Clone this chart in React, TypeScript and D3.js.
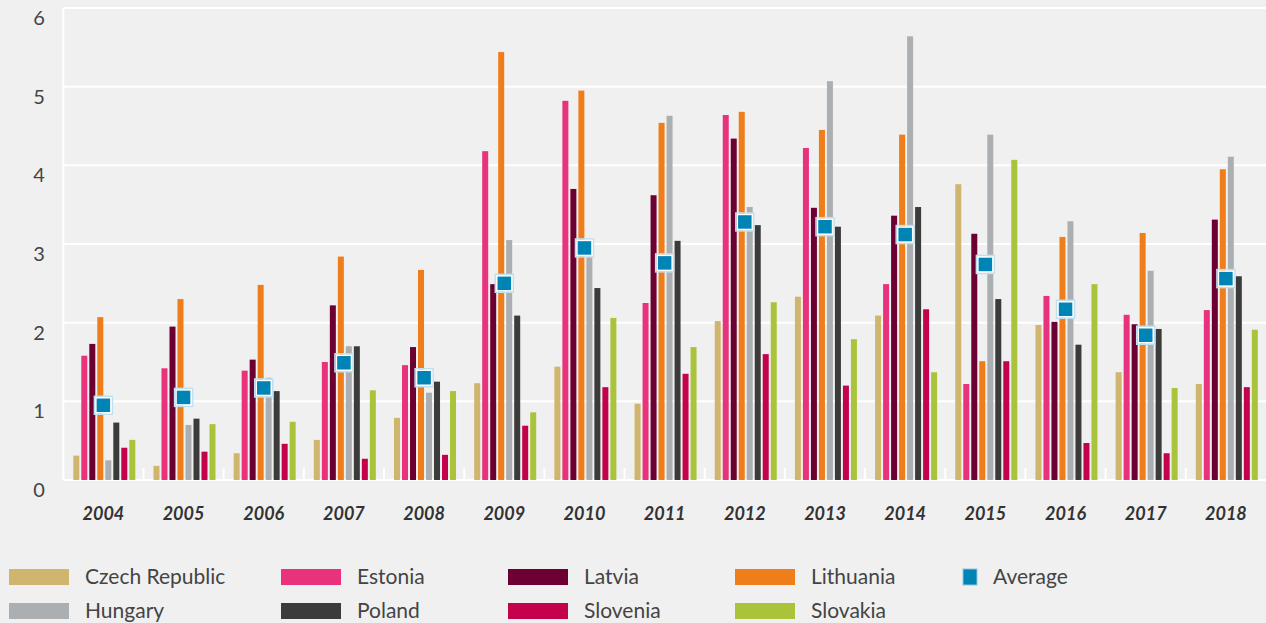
import React from "react";
import * as d3 from "d3";

const years = ["2004","2005","2006","2007","2008","2009","2010","2011","2012","2013","2014","2015","2016","2017","2018"];
const seriesNames = ["Czech Republic","Estonia","Latvia","Lithuania","Hungary","Poland","Slovenia","Slovakia"];
const seriesColors = ["#cfb56d","#e8327c","#6d0032","#ef7d1a","#acafb1","#3a3b3a","#c3024b","#a9c43a"];
const averageColor = "#0083b5";

const czech     = [0.31,0.18,0.34,0.51,0.79,1.23,1.44,0.97,2.02,2.33,2.09,3.76,1.97,1.37,1.22];
const estonia   = [1.58,1.42,1.39,1.50,1.46,4.18,4.82,2.25,4.64,4.22,2.49,1.22,2.34,2.10,2.16];
const latvia    = [1.73,1.95,1.53,2.22,1.69,2.49,3.70,3.62,4.34,3.46,3.36,3.13,2.01,1.98,3.31];
const lithuania = [2.07,2.30,2.48,2.84,2.67,5.44,4.95,4.54,4.68,4.45,4.39,1.51,3.09,3.14,3.95];
const hungary   = [0.25,0.70,1.30,1.70,1.11,3.05,2.84,4.63,3.47,5.07,5.64,4.39,3.29,2.66,4.11];
const poland    = [0.73,0.78,1.13,1.70,1.25,2.09,2.44,3.04,3.24,3.22,3.47,2.30,1.72,1.92,2.59];
const slovenia  = [0.41,0.36,0.46,0.27,0.32,0.69,1.18,1.35,1.60,1.20,2.17,1.51,0.47,0.34,1.18];
const slovakia  = [0.51,0.71,0.74,1.14,1.13,0.86,2.06,1.69,2.26,1.79,1.37,4.07,2.49,1.17,1.91];
const average   = [0.95,1.05,1.17,1.49,1.30,2.50,2.95,2.76,3.28,3.22,3.12,2.74,2.17,1.84,2.56];

const seriesValues = [czech, estonia, latvia, lithuania, hungary, poland, slovenia, slovakia];
const yTicks = [0,1,2,3,4,5,6];

const W = 1266, H = 623;
const left = 63.3, right = 1266, top = 8, bottom = 480;

export default function App() {
  const x0 = d3.scaleBand<string>().domain(years).range([left, right]);
  const x1 = d3.scaleBand<string>().domain(seriesNames).range([10, 72]).paddingInner(0.25);
  const y = d3.scaleLinear().domain([0, 6]).range([bottom, top]);

  const legendRows = [
    [{ name: "Czech Republic", color: seriesColors[0], x: 9 }, { name: "Estonia", color: seriesColors[1], x: 281 }, { name: "Latvia", color: seriesColors[2], x: 508 }, { name: "Lithuania", color: seriesColors[3], x: 735 }],
    [{ name: "Hungary", color: seriesColors[4], x: 9 }, { name: "Poland", color: seriesColors[5], x: 281 }, { name: "Slovenia", color: seriesColors[6], x: 508 }, { name: "Slovakia", color: seriesColors[7], x: 735 }],
  ];

  return (
    <svg width={W} height={H} style={{ position: "absolute", left: 0, top: 0, fontFamily: "Lato, 'Noto Sans', sans-serif" }}>
      <rect x={0} y={0} width={W} height={H} fill="#f0f0f0" />
      {yTicks.map((t) => (
        <g key={t}>
          <line x1={left} x2={right} y1={y(t)} y2={y(t)} stroke="#ffffff" strokeWidth={2} />
          <text x={39} y={y(t) + 17} textAnchor="middle" fontSize={20} fill="#444">{t}</text>
        </g>
      ))}
      <line x1={left} x2={left} y1={top} y2={bottom} stroke="#ffffff" strokeWidth={2} />
      {years.map((yr) => (
        <line key={"tk" + yr} x1={x0(yr)!} x2={x0(yr)!} y1={bottom - 12} y2={bottom} stroke="#ffffff" strokeWidth={2} />
      ))}
      {years.map((yr, i) => (
        <g key={yr} transform={`translate(${x0(yr)},0)`}>
          {seriesNames.map((s, j) => {
            const v = seriesValues[j][i];
            return (
              <rect key={s} x={x1(s)!} y={y(v)} width={x1.bandwidth()} height={y(0) - y(v)} fill={seriesColors[j]} />
            );
          })}
        </g>
      ))}
      {years.map((yr, i) => {
        const cx = x0(yr)! + x0.bandwidth() / 2;
        const cy = y(average[i]);
        return (
          <g key={"avg" + yr}>
            <rect x={cx - 9} y={cy - 9} width={18} height={18} fill="none" stroke="#bfe0ee" strokeWidth={1.5} />
            <rect x={cx - 7.5} y={cy - 7.5} width={15} height={15} fill={averageColor} stroke="#ffffff" strokeWidth={1.5} />
          </g>
        );
      })}
      {years.map((yr) => (
        <text key={"lbl" + yr} x={x0(yr)! + x0.bandwidth() / 2} y={520} textAnchor="middle" fontSize={18} fontStyle="italic" fontWeight="bold" fill="#333">{yr}</text>
      ))}
      {legendRows.map((row, ri) => (
        <g key={"lr" + ri} transform={`translate(0,${ri === 0 ? 569 : 603})`}>
          {row.map((it) => (
            <g key={it.name}>
              <rect x={it.x} y={0} width={60} height={16} fill={it.color} />
              <text x={it.x + 76} y={15} fontSize={21} fill="#444">{it.name}</text>
            </g>
          ))}
        </g>
      ))}
      <g transform="translate(963,569)">
        <rect x={0} y={0} width={14} height={16} fill={averageColor} stroke="#8fc6dc" strokeWidth={1} />
        <text x={30} y={15} fontSize={21} fill="#444">Average</text>
      </g>
    </svg>
  );
}
